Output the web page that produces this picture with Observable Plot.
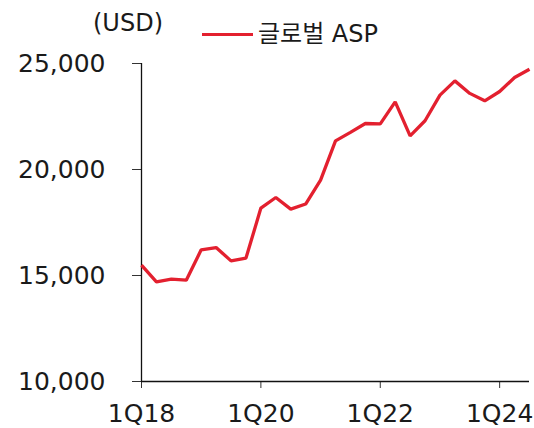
<!DOCTYPE html>
<html>
<head>
<meta charset="utf-8">
<script src="https://cdn.jsdelivr.net/npm/d3@7"></script>
<script src="https://cdn.jsdelivr.net/npm/@observablehq/plot@0.6"></script>
<style>
  html, body { margin: 0; padding: 0; background: #fff; }
  #wrap { position: relative; width: 534px; height: 428px; font-family: "DejaVu Sans", "Noto Sans CJK KR", sans-serif; color: #1a1a1a; }
  #unit { position: absolute; left: 93px; top: 9px; font-size: 24px; line-height: 28px; }
  #legend { position: absolute; left: 202px; top: 20px; display: flex; align-items: center; font-size: 24px; line-height: 28px; }
  #legend .sw { width: 51px; height: 3px; background: #e3202f; margin-right: 5px; }
</style>
</head>
<body>
<div id="wrap">
  <div id="unit">(USD)</div>
  <div id="legend"><span class="sw"></span><span id="legendText"></span></div>
</div>
<script>
const quarters = [
  "1Q18","2Q18","3Q18","4Q18","1Q19","2Q19","3Q19","4Q19",
  "1Q20","2Q20","3Q20","4Q20","1Q21","2Q21","3Q21","4Q21",
  "1Q22","2Q22","3Q22","4Q22","1Q23","2Q23","3Q23","4Q23",
  "1Q24","2Q24","3Q24"
];
const globalASP = [
  15490, 14700, 14830, 14780, 16210, 16320, 15690, 15820,
  18180, 18680, 18130, 18370, 19500, 21350, 21750, 22170,
  22150, 23190, 21590, 22300, 23510, 24180, 23590, 23240,
  23680, 24340, 24730
];
const yTicks = [10000, 15000, 20000, 25000];
const xTicks = ["1Q18", "1Q20", "1Q22", "1Q24"];
const seriesName = "글로벌 ASP";
document.getElementById("legendText").textContent = seriesName;

const data = quarters.map((q, i) => ({idx: i, quarter: q, value: globalASP[i]}));
const xTickIdx = xTicks.map(t => quarters.indexOf(t));

const chart = Plot.plot({
  width: 534,
  height: 428,
  marginLeft: 141,
  marginRight: 5,
  marginTop: 63,
  marginBottom: 47,
  style: {fontFamily: '"DejaVu Sans", sans-serif', fontSize: "25px", color: "#1a1a1a", background: "transparent"},
  x: {type: "linear", domain: [0, quarters.length - 1]},
  y: {domain: [yTicks[0], yTicks[yTicks.length - 1]]},
  marks: [
    Plot.axisY({ticks: yTicks, tickSize: 9, tickPadding: 27, tickFormat: d3.format(","), stroke: "#333", strokeOpacity: 1, fontSize: 25, label: null}),
    Plot.axisX({ticks: xTickIdx, tickSize: 7, tickPadding: 16, tickFormat: i => quarters[i], stroke: "#333", strokeOpacity: 1, fontSize: 25, label: null}),
    Plot.ruleX([0], {y1: yTicks[0], y2: yTicks[yTicks.length - 1], stroke: "#111", strokeWidth: 1.3}),
    Plot.ruleY([yTicks[0]], {stroke: "#111", strokeWidth: 1.3}),
    Plot.line(data, {x: "idx", y: "value", stroke: "#e3202f", strokeWidth: 3.3, strokeLinejoin: "miter", strokeLinecap: "butt"})
  ]
});
chart.style.position = "absolute";
chart.style.left = "0px";
chart.style.top = "0px";
document.getElementById("wrap").prepend(chart);
</script>
</body>
</html>
